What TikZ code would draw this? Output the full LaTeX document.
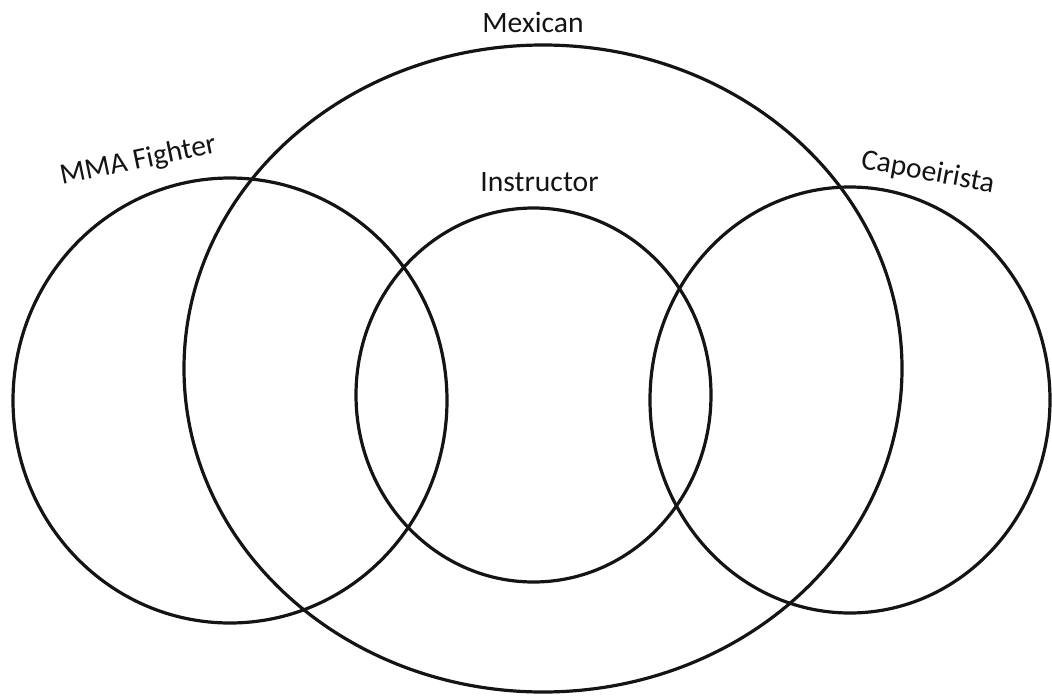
\documentclass[tikz,border=0pt]{standalone}
\usepackage{fontspec}
\setmainfont{Carlito}
\begin{document}
\begin{tikzpicture}[x=1pt,y=-1pt,
  setline/.style={line width=3.2pt, draw=black!92},
  lbl/.style={inner sep=0pt, text=black!92, font=\fontsize{29.6}{32}\selectfont}]
\useasboundingbox (0,0) rectangle (1052,696);
% sets
\draw[setline] (543,368.5) ellipse [x radius=359, y radius=323.5];
\draw[setline] (230,400.5) ellipse [x radius=217, y radius=222.5];
\draw[setline] (533.5,395) ellipse [x radius=177.5, y radius=187];
\draw[setline] (850,400) ellipse [x radius=200, y radius=213];
% labels
\node[lbl, anchor=base] (mex) at (533,32) {Mexican};
\node[lbl, anchor=base] (ins) at (539.5,191) {Instructor};
\node[lbl, anchor=base west, rotate=11.7] (mma) at (62,185) {MMA Fighter};
\node[lbl, anchor=base west, rotate=-10.5] (cap) at (860,168) {Capoeirista};
\end{tikzpicture}
\end{document}
